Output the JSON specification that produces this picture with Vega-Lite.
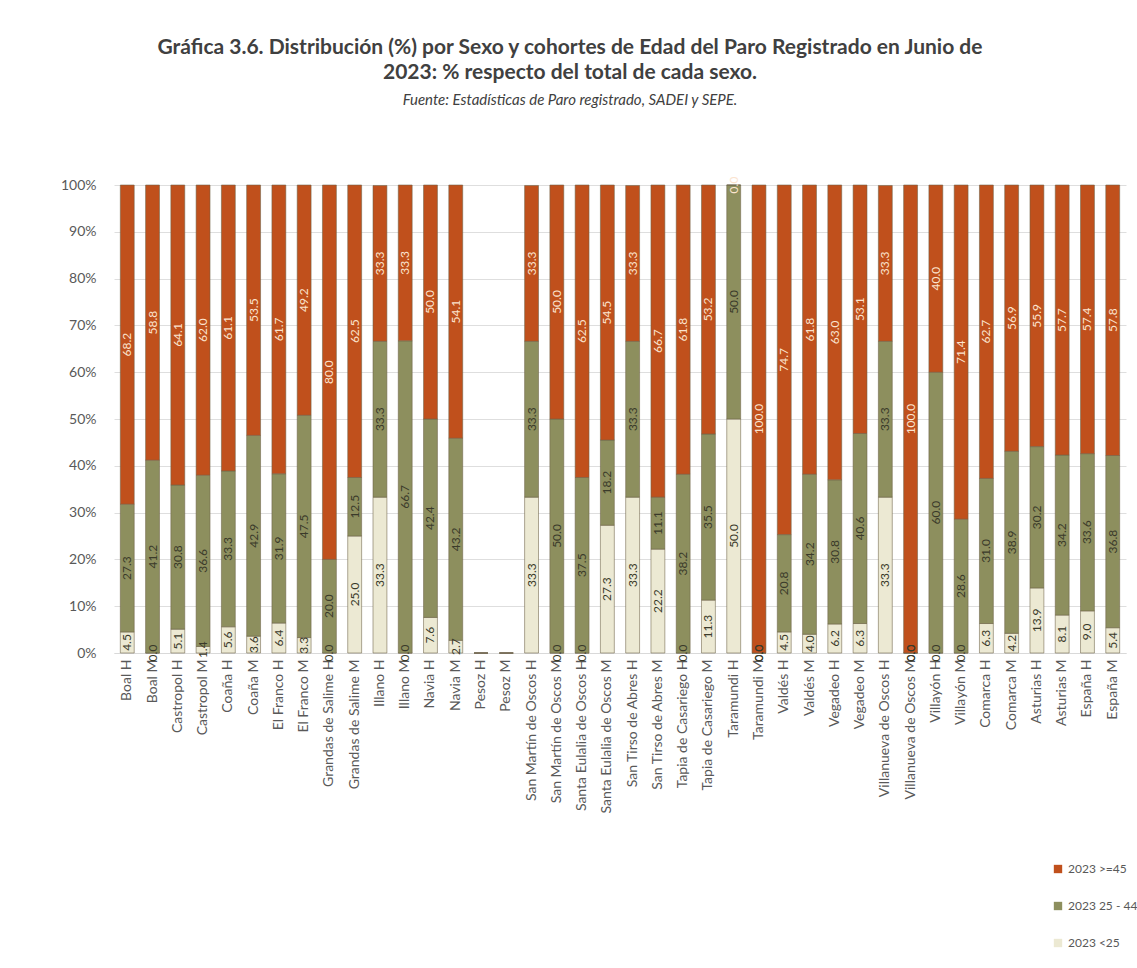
{
  "$schema": "https://vega.github.io/schema/vega-lite/v6.json",
  "autosize": {"type": "none"},
  "width": 1012,
  "height": 468,
  "padding": {"left": 114, "top": 185, "right": 11, "bottom": 315},
  "background": "#ffffff",
  "config": {
    "font": "Lato",
    "view": {"stroke": null},
    "axis": {"labelFont": "Lato", "labelColor": "#595959", "titleColor": "#595959"}
  },
  "title": {
    "text": ["Gráfica 3.6. Distribución (%) por Sexo y cohortes de Edad del Paro Registrado en Junio de", "2023: % respecto del total de cada sexo."],
    "subtitle": "Fuente: Estadísticas de Paro registrado, SADEI y SEPE.",
    "anchor": "middle",
    "dx": -50,
    "offset": 69,
    "font": "Lato",
    "fontSize": 21,
    "fontWeight": "bold",
    "color": "#404040",
    "lineHeight": 25,
    "subtitleFont": "Lato",
    "subtitleFontSize": 15,
    "subtitleFontStyle": "italic",
    "subtitleColor": "#404040",
    "subtitlePadding": 10
  },
  "data": {
    "values": [
      {"g": "Boal H", "c": "2023 <25", "o": 1, "p": 4.5}, {"g": "Boal H", "c": "2023 25 - 44", "o": 2, "p": 27.3}, {"g": "Boal H", "c": "2023 >=45", "o": 3, "p": 68.2},
      {"g": "Boal M", "c": "2023 <25", "o": 1, "p": 0.0}, {"g": "Boal M", "c": "2023 25 - 44", "o": 2, "p": 41.2}, {"g": "Boal M", "c": "2023 >=45", "o": 3, "p": 58.8},
      {"g": "Castropol H", "c": "2023 <25", "o": 1, "p": 5.1}, {"g": "Castropol H", "c": "2023 25 - 44", "o": 2, "p": 30.8}, {"g": "Castropol H", "c": "2023 >=45", "o": 3, "p": 64.1},
      {"g": "Castropol M", "c": "2023 <25", "o": 1, "p": 1.4}, {"g": "Castropol M", "c": "2023 25 - 44", "o": 2, "p": 36.6}, {"g": "Castropol M", "c": "2023 >=45", "o": 3, "p": 62.0},
      {"g": "Coaña H", "c": "2023 <25", "o": 1, "p": 5.6}, {"g": "Coaña H", "c": "2023 25 - 44", "o": 2, "p": 33.3}, {"g": "Coaña H", "c": "2023 >=45", "o": 3, "p": 61.1},
      {"g": "Coaña M", "c": "2023 <25", "o": 1, "p": 3.6}, {"g": "Coaña M", "c": "2023 25 - 44", "o": 2, "p": 42.9}, {"g": "Coaña M", "c": "2023 >=45", "o": 3, "p": 53.5},
      {"g": "El Franco H", "c": "2023 <25", "o": 1, "p": 6.4}, {"g": "El Franco H", "c": "2023 25 - 44", "o": 2, "p": 31.9}, {"g": "El Franco H", "c": "2023 >=45", "o": 3, "p": 61.7},
      {"g": "El Franco M", "c": "2023 <25", "o": 1, "p": 3.3}, {"g": "El Franco M", "c": "2023 25 - 44", "o": 2, "p": 47.5}, {"g": "El Franco M", "c": "2023 >=45", "o": 3, "p": 49.2},
      {"g": "Grandas de Salime H", "c": "2023 <25", "o": 1, "p": 0.0}, {"g": "Grandas de Salime H", "c": "2023 25 - 44", "o": 2, "p": 20.0}, {"g": "Grandas de Salime H", "c": "2023 >=45", "o": 3, "p": 80.0},
      {"g": "Grandas de Salime M", "c": "2023 <25", "o": 1, "p": 25.0}, {"g": "Grandas de Salime M", "c": "2023 25 - 44", "o": 2, "p": 12.5}, {"g": "Grandas de Salime M", "c": "2023 >=45", "o": 3, "p": 62.5},
      {"g": "Illano H", "c": "2023 <25", "o": 1, "p": 33.3}, {"g": "Illano H", "c": "2023 25 - 44", "o": 2, "p": 33.3}, {"g": "Illano H", "c": "2023 >=45", "o": 3, "p": 33.3},
      {"g": "Illano M", "c": "2023 <25", "o": 1, "p": 0.0}, {"g": "Illano M", "c": "2023 25 - 44", "o": 2, "p": 66.7}, {"g": "Illano M", "c": "2023 >=45", "o": 3, "p": 33.3},
      {"g": "Navia H", "c": "2023 <25", "o": 1, "p": 7.6}, {"g": "Navia H", "c": "2023 25 - 44", "o": 2, "p": 42.4}, {"g": "Navia H", "c": "2023 >=45", "o": 3, "p": 50.0},
      {"g": "Navia M", "c": "2023 <25", "o": 1, "p": 2.7}, {"g": "Navia M", "c": "2023 25 - 44", "o": 2, "p": 43.2}, {"g": "Navia M", "c": "2023 >=45", "o": 3, "p": 54.1},
      {"g": "Pesoz H", "c": "2023 <25", "o": 1, "p": null}, {"g": "Pesoz H", "c": "2023 25 - 44", "o": 2, "p": null}, {"g": "Pesoz H", "c": "2023 >=45", "o": 3, "p": null},
      {"g": "Pesoz M", "c": "2023 <25", "o": 1, "p": null}, {"g": "Pesoz M", "c": "2023 25 - 44", "o": 2, "p": null}, {"g": "Pesoz M", "c": "2023 >=45", "o": 3, "p": null},
      {"g": "San Martín de Oscos H", "c": "2023 <25", "o": 1, "p": 33.3}, {"g": "San Martín de Oscos H", "c": "2023 25 - 44", "o": 2, "p": 33.3}, {"g": "San Martín de Oscos H", "c": "2023 >=45", "o": 3, "p": 33.3},
      {"g": "San Martín de Oscos M", "c": "2023 <25", "o": 1, "p": 0.0}, {"g": "San Martín de Oscos M", "c": "2023 25 - 44", "o": 2, "p": 50.0}, {"g": "San Martín de Oscos M", "c": "2023 >=45", "o": 3, "p": 50.0},
      {"g": "Santa Eulalia de Oscos H", "c": "2023 <25", "o": 1, "p": 0.0}, {"g": "Santa Eulalia de Oscos H", "c": "2023 25 - 44", "o": 2, "p": 37.5}, {"g": "Santa Eulalia de Oscos H", "c": "2023 >=45", "o": 3, "p": 62.5},
      {"g": "Santa Eulalia de Oscos M", "c": "2023 <25", "o": 1, "p": 27.3}, {"g": "Santa Eulalia de Oscos M", "c": "2023 25 - 44", "o": 2, "p": 18.2}, {"g": "Santa Eulalia de Oscos M", "c": "2023 >=45", "o": 3, "p": 54.5},
      {"g": "San Tirso de Abres H", "c": "2023 <25", "o": 1, "p": 33.3}, {"g": "San Tirso de Abres H", "c": "2023 25 - 44", "o": 2, "p": 33.3}, {"g": "San Tirso de Abres H", "c": "2023 >=45", "o": 3, "p": 33.3},
      {"g": "San Tirso de Abres M", "c": "2023 <25", "o": 1, "p": 22.2}, {"g": "San Tirso de Abres M", "c": "2023 25 - 44", "o": 2, "p": 11.1}, {"g": "San Tirso de Abres M", "c": "2023 >=45", "o": 3, "p": 66.7},
      {"g": "Tapia de Casariego H", "c": "2023 <25", "o": 1, "p": 0.0}, {"g": "Tapia de Casariego H", "c": "2023 25 - 44", "o": 2, "p": 38.2}, {"g": "Tapia de Casariego H", "c": "2023 >=45", "o": 3, "p": 61.8},
      {"g": "Tapia de Casariego M", "c": "2023 <25", "o": 1, "p": 11.3}, {"g": "Tapia de Casariego M", "c": "2023 25 - 44", "o": 2, "p": 35.5}, {"g": "Tapia de Casariego M", "c": "2023 >=45", "o": 3, "p": 53.2},
      {"g": "Taramundi H", "c": "2023 <25", "o": 1, "p": 50.0}, {"g": "Taramundi H", "c": "2023 25 - 44", "o": 2, "p": 50.0}, {"g": "Taramundi H", "c": "2023 >=45", "o": 3, "p": 0.0},
      {"g": "Taramundi M", "c": "2023 <25", "o": 1, "p": 0.0}, {"g": "Taramundi M", "c": "2023 25 - 44", "o": 2, "p": 0.0}, {"g": "Taramundi M", "c": "2023 >=45", "o": 3, "p": 100.0},
      {"g": "Valdés H", "c": "2023 <25", "o": 1, "p": 4.5}, {"g": "Valdés H", "c": "2023 25 - 44", "o": 2, "p": 20.8}, {"g": "Valdés H", "c": "2023 >=45", "o": 3, "p": 74.7},
      {"g": "Valdés M", "c": "2023 <25", "o": 1, "p": 4.0}, {"g": "Valdés M", "c": "2023 25 - 44", "o": 2, "p": 34.2}, {"g": "Valdés M", "c": "2023 >=45", "o": 3, "p": 61.8},
      {"g": "Vegadeo H", "c": "2023 <25", "o": 1, "p": 6.2}, {"g": "Vegadeo H", "c": "2023 25 - 44", "o": 2, "p": 30.8}, {"g": "Vegadeo H", "c": "2023 >=45", "o": 3, "p": 63.0},
      {"g": "Vegadeo M", "c": "2023 <25", "o": 1, "p": 6.3}, {"g": "Vegadeo M", "c": "2023 25 - 44", "o": 2, "p": 40.6}, {"g": "Vegadeo M", "c": "2023 >=45", "o": 3, "p": 53.1},
      {"g": "Villanueva de Oscos H", "c": "2023 <25", "o": 1, "p": 33.3}, {"g": "Villanueva de Oscos H", "c": "2023 25 - 44", "o": 2, "p": 33.3}, {"g": "Villanueva de Oscos H", "c": "2023 >=45", "o": 3, "p": 33.3},
      {"g": "Villanueva de Oscos M", "c": "2023 <25", "o": 1, "p": 0.0}, {"g": "Villanueva de Oscos M", "c": "2023 25 - 44", "o": 2, "p": 0.0}, {"g": "Villanueva de Oscos M", "c": "2023 >=45", "o": 3, "p": 100.0},
      {"g": "Villayón H", "c": "2023 <25", "o": 1, "p": 0.0}, {"g": "Villayón H", "c": "2023 25 - 44", "o": 2, "p": 60.0}, {"g": "Villayón H", "c": "2023 >=45", "o": 3, "p": 40.0},
      {"g": "Villayón M", "c": "2023 <25", "o": 1, "p": 0.0}, {"g": "Villayón M", "c": "2023 25 - 44", "o": 2, "p": 28.6}, {"g": "Villayón M", "c": "2023 >=45", "o": 3, "p": 71.4},
      {"g": "Comarca H", "c": "2023 <25", "o": 1, "p": 6.3}, {"g": "Comarca H", "c": "2023 25 - 44", "o": 2, "p": 31.0}, {"g": "Comarca H", "c": "2023 >=45", "o": 3, "p": 62.7},
      {"g": "Comarca M", "c": "2023 <25", "o": 1, "p": 4.2}, {"g": "Comarca M", "c": "2023 25 - 44", "o": 2, "p": 38.9}, {"g": "Comarca M", "c": "2023 >=45", "o": 3, "p": 56.9},
      {"g": "Asturias H", "c": "2023 <25", "o": 1, "p": 13.9}, {"g": "Asturias H", "c": "2023 25 - 44", "o": 2, "p": 30.2}, {"g": "Asturias H", "c": "2023 >=45", "o": 3, "p": 55.9},
      {"g": "Asturias M", "c": "2023 <25", "o": 1, "p": 8.1}, {"g": "Asturias M", "c": "2023 25 - 44", "o": 2, "p": 34.2}, {"g": "Asturias M", "c": "2023 >=45", "o": 3, "p": 57.7},
      {"g": "España H", "c": "2023 <25", "o": 1, "p": 9.0}, {"g": "España H", "c": "2023 25 - 44", "o": 2, "p": 33.6}, {"g": "España H", "c": "2023 >=45", "o": 3, "p": 57.4},
      {"g": "España M", "c": "2023 <25", "o": 1, "p": 5.4}, {"g": "España M", "c": "2023 25 - 44", "o": 2, "p": 36.8}, {"g": "España M", "c": "2023 >=45", "o": 3, "p": 57.8}
    ]
  },
  "transform": [
    {"stack": "p", "groupby": ["g"], "sort": [{"field": "o", "order": "ascending"}], "as": ["p0", "p1"]},
    {"calculate": "(datum.p0 + datum.p1) / 2", "as": "pm"}
  ],
  "encoding": {
    "x": {
      "field": "g", "type": "nominal", "sort": null, "title": null,
      "scale": {"paddingInner": 0.45, "paddingOuter": 0.25},
      "axis": {"labelAngle": -90, "labelFontSize": 14, "labelColor": "#595959", "ticks": false, "domain": true, "domainColor": "#d9d9d9", "labelPadding": 6, "labelLimit": 300}
    }
  },
  "layer": [
    {
      "mark": {"type": "bar", "stroke": "#6e6248", "strokeWidth": 0.7, "strokeOpacity": 0.8},
      "encoding": {
        "y": {
          "field": "p0", "type": "quantitative", "title": null,
          "scale": {"domain": [0, 100], "nice": false},
          "axis": {"values": [0, 10, 20, 30, 40, 50, 60, 70, 80, 90, 100], "labelExpr": "datum.value + '%'", "labelFontSize": 14, "labelColor": "#595959", "ticks": false, "domain": false, "grid": true, "gridColor": "#dedede", "labelPadding": 18}
        },
        "y2": {"field": "p1"},
        "color": {
          "field": "c", "type": "nominal", "title": null,
          "scale": {"domain": ["2023 >=45", "2023 25 - 44", "2023 <25"], "range": ["#c0501c", "#8d8f5e", "#ece9d3"]},
          "legend": {
            "orient": "none", "legendX": 938, "legendY": 678, "direction": "vertical",
            "symbolType": "square", "symbolSize": 70, "symbolStrokeWidth": 0,
            "labelFontSize": 12, "labelColor": "#595959", "labelFont": "Lato", "rowPadding": 25
          }
        }
      }
    },
    {
      "transform": [{"filter": "isValid(datum.p)"}],
      "mark": {"type": "text", "angle": 270, "fontSize": 12, "align": "center", "baseline": "middle"},
      "encoding": {
        "y": {"field": "pm", "type": "quantitative"},
        "text": {"field": "p", "type": "quantitative", "format": ".1f"},
        "color": {"condition": {"test": "datum.c === '2023 >=45'", "value": "#fbe4cf"}, "value": "#3a3a2a"}
      }
    }
  ]
}
